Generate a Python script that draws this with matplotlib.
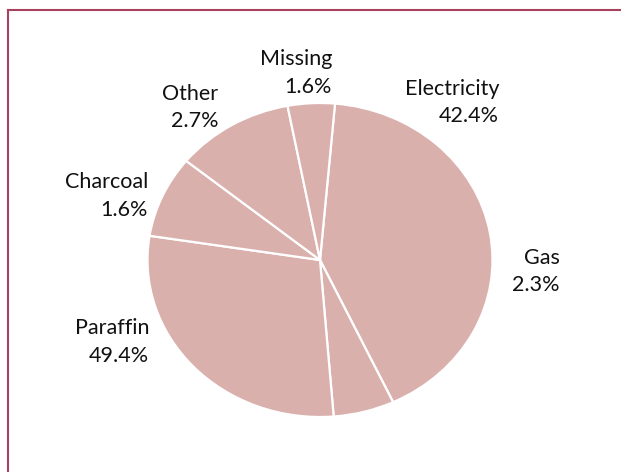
import matplotlib
matplotlib.use("Agg")
import matplotlib.pyplot as plt
from matplotlib.lines import Line2D

# Data
categories = ["Electricity", "Gas", "Paraffin", "Charcoal", "Other", "Missing"]
slice_sizes = [41.6, 5.7, 28.7, 8.4, 11.1, 4.4]      # wedge sizes as drawn
label_pcts = ["42.4%", "2.3%", "49.4%", "1.6%", "2.7%", "1.6%"]  # printed labels

# Label anchor positions (right edge, block centre) in pie units
label_pos = [(1.038, 1.003), (1.391, -0.073), (-0.991, -0.522),
             (-0.997, 0.408), (-0.591, 0.971), (0.070, 1.191)]

W, H = 621, 472
fig = plt.figure(figsize=(W / 100, H / 100), dpi=100)
fig.patch.set_facecolor("white")

# pie bounding box in pixels: centre (320, 260), rx 172.5, ry 157
cx, cy, rx, ry = 320, 260, 172.5, 157
ax = fig.add_axes([(cx - rx) / W, (H - cy - ry) / H, 2 * rx / W, 2 * ry / H])
ax.pie(slice_sizes, startangle=85, counterclock=False, colors=["#dab0ad"] * 6,
       wedgeprops=dict(edgecolor="white", linewidth=1.6))
ax.set_aspect("auto")
ax.set_xlim(-1, 1)
ax.set_ylim(-1, 1)
ax.axis("off")

for cat, pct, (x, y) in zip(categories, label_pcts, label_pos):
    ax.text(x, y, f"{cat}\n{pct}", ha="right", va="center", multialignment="right",
            fontsize=15.5, family="Lato", color="#111111",
            clip_on=False, linespacing=1.45)

# frame on top and left
fig.add_artist(Line2D([7.5 / W, 7.5 / W], [0, 1 - 9.5 / H], color="#a8405f", lw=1.5))
fig.add_artist(Line2D([7.5 / W, 1], [1 - 9.5 / H, 1 - 9.5 / H], color="#a8405f", lw=1.5))

fig.savefig("out.png", dpi=100)
